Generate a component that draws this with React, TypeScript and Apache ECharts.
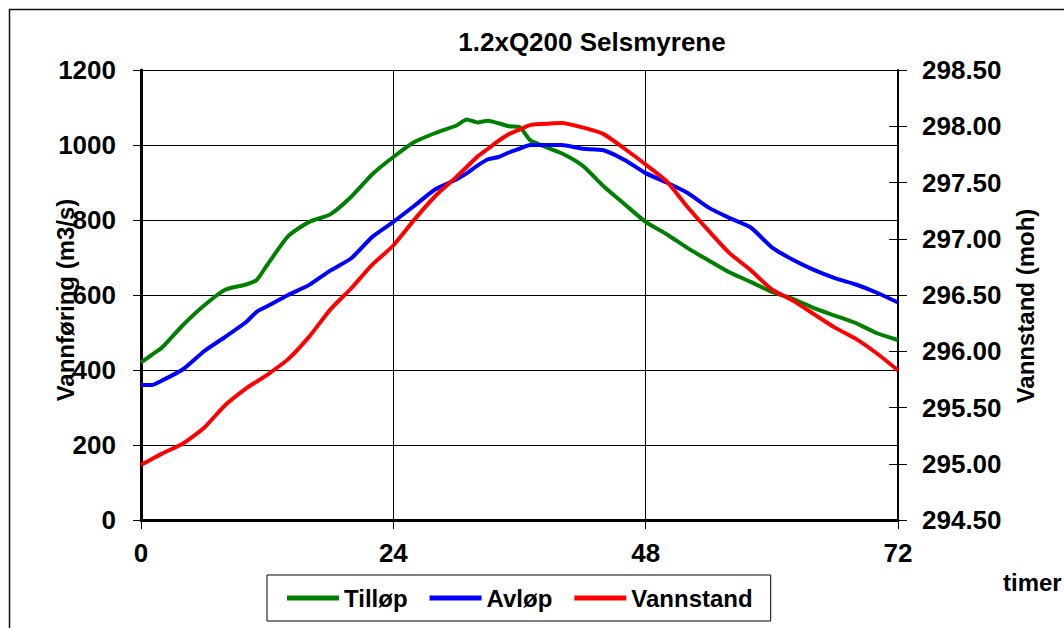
import React, { useEffect, useRef } from "react";
import * as echarts from "echarts";

const FONT = '"Liberation Sans", Arial, sans-serif';

const titleText = "1.2xQ200 Selsmyrene";
const leftAxisName = "Vannføring (m3/s)";
const rightAxisName = "Vannstand (moh)";
const xAxisName = "timer";
const seriesNames = ["Tilløp", "Avløp", "Vannstand"];

const hours = [0, 1, 2, 4, 6, 8, 10, 11, 12, 14, 16, 18, 20, 22, 24, 26, 28, 30, 31, 32, 33, 34, 35, 36, 37, 38, 40, 42, 44, 46, 48, 50, 52, 54, 56, 58, 60, 62, 64, 66, 68, 70, 72];

const tillop = [420, 440, 460, 520, 572, 614, 628, 640, 680, 757, 795, 815, 862, 922, 968, 1008, 1032, 1052, 1068, 1060, 1065, 1058, 1050, 1048, 1013, 1000, 978, 945, 890, 842, 795, 762, 725, 692, 660, 635, 608, 590, 565, 545, 525, 498, 480];

const avlop = [360, 360, 372, 402, 450, 488, 528, 555, 570, 600, 627, 665, 698, 755, 795, 838, 882, 908, 925, 945, 962, 968, 980, 990, 1000, 1000, 1000, 990, 986, 960, 925, 900, 872, 833, 805, 780, 727, 694, 667, 645, 628, 606, 580];

const vannstand = [294.99, 295.04, 295.09, 295.18, 295.32, 295.52, 295.67, 295.73, 295.79, 295.93, 296.13, 296.37, 296.56, 296.77, 296.94, 297.17, 297.38, 297.55, 297.64, 297.73, 297.8, 297.87, 297.93, 297.97, 298.01, 298.02, 298.03, 297.99, 297.93, 297.8, 297.66, 297.51, 297.28, 297.07, 296.87, 296.72, 296.55, 296.45, 296.33, 296.21, 296.11, 295.98, 295.83];

const colors = ["#008000", "#0000ff", "#ff0000"];

const pairs = (vals: number[]) => hours.map((h, i) => [h, vals[i]]);

export default function App() {
  const ref = useRef<HTMLDivElement>(null);
  useEffect(() => {
    if (!ref.current) return;
    const chart = echarts.init(ref.current, undefined, { renderer: "svg" });
    const labelStyle = { color: "#000", fontSize: 26, fontWeight: "bold" as const, fontFamily: FONT };
    chart.setOption({
      animation: false,
      backgroundColor: "#fff",
      textStyle: { fontFamily: FONT },
      grid: { left: 141, right: 166, top: 70, bottom: 108, containLabel: false },
      legend: {
        left: 267,
        top: 575,
        data: seriesNames,
        icon: "rect",
        itemWidth: 52,
        itemHeight: 5,
        itemGap: 22,
        selectedMode: false,
        borderColor: "#000",
        borderWidth: 1,
        padding: [11, 18, 11, 20],
        textStyle: { color: "#000", fontSize: 24, fontWeight: "bold", fontFamily: FONT },
      },
      xAxis: {
        type: "value",
        min: 0,
        max: 72,
        interval: 24,
        axisLine: { show: true, lineStyle: { color: "#000", width: 3 } },
        axisTick: { show: true, length: 9, lineStyle: { color: "#000", width: 1 } },
        axisLabel: { ...labelStyle, margin: 20, formatter: (v: number) => String(v) },
        splitLine: { show: true, lineStyle: { color: "#000", width: 1 } },
      },
      yAxis: [
        {
          type: "value",
          position: "left",
          min: 0,
          max: 1200,
          interval: 200,
          axisLine: { show: true, lineStyle: { color: "#000", width: 3 } },
          axisTick: { show: true, length: 8, lineStyle: { color: "#000", width: 1 } },
          axisLabel: { ...labelStyle, margin: 25, formatter: (v: number) => String(v) },
          splitLine: { show: true, lineStyle: { color: "#000", width: 1.2 } },
        },
        {
          type: "value",
          position: "right",
          min: 294.5,
          max: 298.5,
          interval: 0.5,
          axisLine: { show: true, lineStyle: { color: "#000", width: 2 } },
          axisTick: { show: true, length: 9, lineStyle: { color: "#000", width: 1 } },
          axisLabel: { ...labelStyle, margin: 24, formatter: (v: number) => v.toFixed(2) },
          splitLine: { show: false },
        },
        {
          type: "value",
          position: "right",
          min: 294.5,
          max: 298.5,
          interval: 0.5,
          axisLine: { show: false },
          axisTick: { show: true, inside: true, length: 9, lineStyle: { color: "#000", width: 1 } },
          axisLabel: { show: false },
          splitLine: { show: false },
        },
      ],
      series: [
        { name: seriesNames[0], type: "line", yAxisIndex: 0, data: pairs(tillop), showSymbol: false, smooth: 0.2, lineStyle: { color: colors[0], width: 4 }, itemStyle: { color: colors[0] } },
        { name: seriesNames[1], type: "line", yAxisIndex: 0, data: pairs(avlop), showSymbol: false, smooth: 0.2, lineStyle: { color: colors[1], width: 4 }, itemStyle: { color: colors[1] } },
        { name: seriesNames[2], type: "line", yAxisIndex: 1, data: pairs(vannstand), showSymbol: false, smooth: 0.2, lineStyle: { color: colors[2], width: 4 }, itemStyle: { color: colors[2] } },
      ],
      graphic: [
        { type: "rect", shape: { x: 9.5, y: 9.5, width: 1200, height: 800 }, style: { fill: "none", stroke: "#111", lineWidth: 1.5 }, silent: true },
        { type: "text", x: 592, y: 42, style: { text: titleText, fill: "#000", font: `bold 26px ${FONT}`, textAlign: "center", textVerticalAlign: "middle" } },
        { type: "text", x: 65, y: 300, rotation: Math.PI / 2, style: { text: leftAxisName, fill: "#000", font: `bold 24px ${FONT}`, textAlign: "center", textVerticalAlign: "middle" } },
        { type: "text", x: 1025, y: 306, rotation: Math.PI / 2, style: { text: rightAxisName, fill: "#000", font: `bold 24px ${FONT}`, textAlign: "center", textVerticalAlign: "middle" } },
        { type: "text", x: 1003, y: 582, style: { text: xAxisName, fill: "#000", font: `bold 24px ${FONT}`, textAlign: "left", textVerticalAlign: "middle" } },
      ],
    });
    return () => chart.dispose();
  }, []);
  return <div ref={ref} style={{ position: "fixed", left: 0, top: 0, width: 1064, height: 628 }} />;
}
